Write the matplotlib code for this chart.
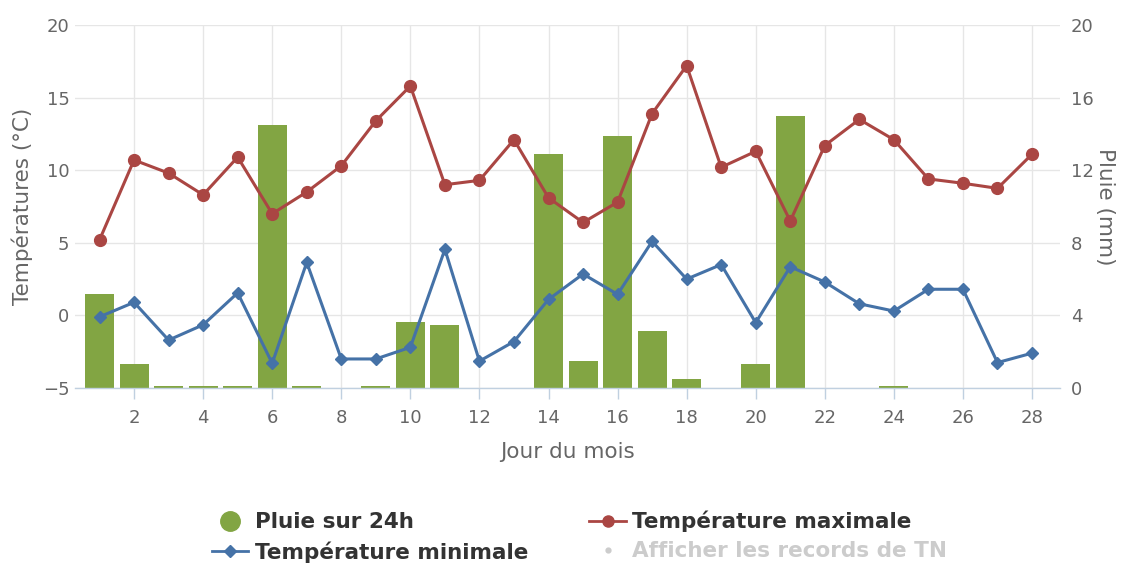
import matplotlib
matplotlib.use("Agg")
import matplotlib.pyplot as plt
from matplotlib.lines import Line2D

days = list(range(1, 29))
tmax = [5.2, 10.7, 9.8, 8.3, 10.9, 7.0, 8.5, 10.3, 13.4, 15.8,
        9.0, 9.3, 12.1, 8.1, 6.4, 7.8, 13.9, 17.2, 10.2, 11.3,
        6.5, 11.7, 13.5, 12.1, 9.4, 9.1, 8.75, 11.1]
tmin = [-0.1, 0.9, -1.7, -0.65, 1.55, -3.3, 3.65, -3.0, -3.0, -2.2,
        4.55, -3.15, -1.8, 1.1, 2.85, 1.45, 5.1, 2.5, 3.5, -0.5,
        3.35, 2.3, 0.8, 0.3, 1.8, 1.8, -3.25, -2.6]
rain = [5.2, 1.3, 0.1, 0.1, 0.1, 14.5, 0.1, 0.0, 0.1, 3.65,
        3.45, 0.0, 0.0, 12.9, 1.5, 13.9, 3.15, 0.5, 0.0, 1.3,
        15.0, 0.0, 0.0, 0.1, 0.0, 0.0, 0.0, 0.0]
xticks = list(range(2, 29, 2))
temp_ticks = [-5, 0, 5, 10, 15, 20]
rain_ticks = [0, 4, 8, 12, 16, 20]

RED = '#AA4643'
BLUE = '#4572A7'
GREEN = '#82A543'
GRID = '#E6E6E6'
AXIS = '#C0D0E0'
TXT = '#666666'

fig = plt.figure(figsize=(11.26, 5.65), dpi=100)
W, H = 1126, 565
ax2 = fig.add_axes([75 / W, 1 - 388 / H, (1060 - 75) / W, (388 - 25) / H])
ax = fig.add_axes(ax2.get_position(), sharex=ax2)
ax.set_zorder(2)
ax.patch.set_visible(False)
ax2.set_zorder(1)

# rain bars on the right axis (bottom layer)
ax2.bar(days, rain, width=0.84, color=GREEN, zorder=3)
ax2.set_ylim(0, 20)
ax2.set_yticks(rain_ticks)
ax2.yaxis.tick_right()
ax2.yaxis.set_label_position('right')
ax2.set_ylabel('Pluie (mm)', rotation=270, labelpad=15, fontsize=15.5, color=TXT)
ax2.set_xticks(days)
ax2.tick_params(axis='x', length=0, labelbottom=False)
ax2.tick_params(axis='y', length=0, labelsize=13, labelcolor=TXT, pad=8)
ax2.grid(True, color=GRID, linewidth=1, zorder=0)
ax2.set_axisbelow(True)
for s in ax2.spines.values():
    s.set_visible(False)

# temperatures on the left axis
ax.plot(days, tmax, color=RED, linewidth=2.2, marker='o', markersize=8.5, zorder=5)
ax.plot(days, tmin, color=BLUE, linewidth=2.2, marker='D', markersize=6.5, zorder=5)
ax.set_ylim(-5, 20)
ax.set_yticks(temp_ticks)
ax.set_xlim(0.29, 28.81)
ax.set_xticks(xticks)
ax.tick_params(axis='y', length=0, labelsize=13, labelcolor=TXT, pad=4)
ax.tick_params(axis='x', length=8, width=1, color=AXIS, labelsize=13, labelcolor=TXT, pad=7)
ax.set_ylabel('Températures (°C)', fontsize=15.5, color=TXT, labelpad=7)
ax.set_xlabel('Jour du mois', fontsize=15.5, color=TXT, labelpad=11)
for k, s in ax.spines.items():
    s.set_visible(k == 'bottom')
ax.spines['bottom'].set_color(AXIS)
ax.spines['bottom'].set_linewidth(1)

handles = [
    Line2D([], [], color=GREEN, marker='o', linestyle='none', markersize=14),
    Line2D([], [], color=BLUE, marker='D', linewidth=2, markersize=6),
    Line2D([], [], color=RED, marker='o', linewidth=2, markersize=8),
    Line2D([], [], color='#CCCCCC', marker='o', linestyle='none', markersize=3.5),
]
labels = ['Pluie sur 24h', 'Température minimale', 'Température maximale',
          'Afficher les records de TN']
leg = fig.legend(handles, labels, ncol=2, loc='center',
                 bbox_to_anchor=(0.5146, 0.050), frameon=False,
                 handlelength=1.7, handletextpad=0.3, columnspacing=2.85,
                 labelspacing=0.4, borderpad=0.2,
                 prop=dict(family='DejaVu Sans', weight='bold', size=15.5))
for t, c in zip(leg.get_texts(), ['#333333', '#333333', '#333333', '#CCCCCC']):
    t.set_color(c)

fig.savefig('out.png', dpi=100, facecolor='white')
